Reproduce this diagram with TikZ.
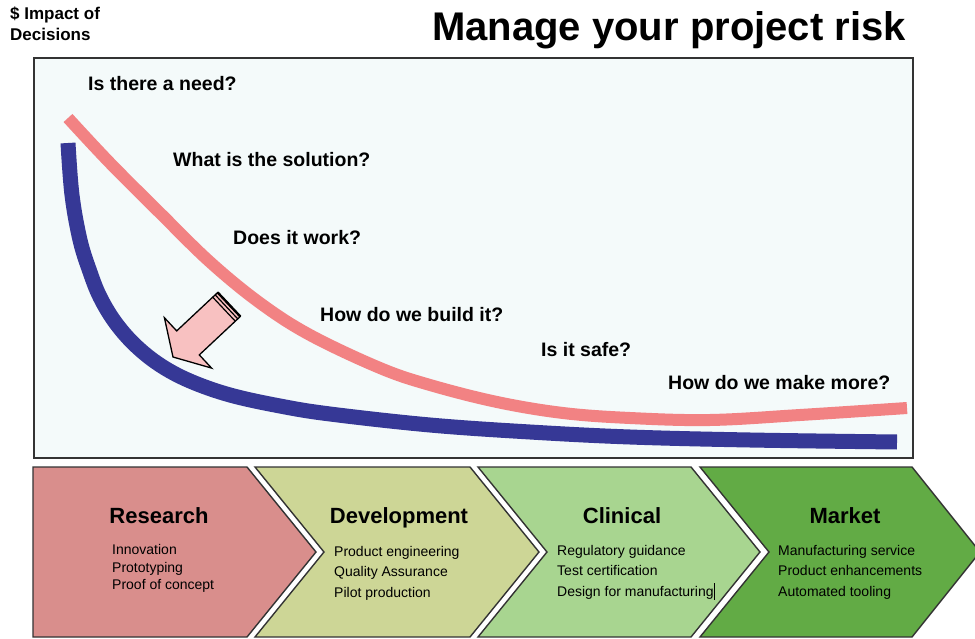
\documentclass[tikz,border=0pt]{standalone}
\usepackage{fontspec}
\setmainfont{Liberation Sans}
\definecolor{panelbg}{HTML}{F4FAFA}
\definecolor{riskred}{HTML}{F28283}
\definecolor{riskblue}{HTML}{363896}
\definecolor{arrowpink}{HTML}{F8C1C1}
\definecolor{chevres}{HTML}{D98E8C}
\definecolor{chevdev}{HTML}{CDD696}
\definecolor{chevcli}{HTML}{A8D590}
\definecolor{chevmkt}{HTML}{62AB45}
\definecolor{edge}{HTML}{333333}
\tikzset{
  question/.style={anchor=base west,inner sep=0pt,font=\fontsize{19.5}{23}\selectfont\bfseries},
  phase/.style={anchor=base,inner sep=0pt,font=\fontsize{22}{26}\selectfont\bfseries},
  item/.style={anchor=base west,inner sep=0pt,font=\fontsize{14}{17}\selectfont},
  chev/.style={draw=edge,line width=1.4pt,line join=miter},
  curve/.style={line cap=butt,line join=round}
}
\begin{document}
\begin{tikzpicture}[x=1pt,y=-1pt]
\useasboundingbox (0,0) rectangle (975,639);
\clip (0,0) rectangle (975,639);
\fill[white] (0,0) rectangle (975,639);

% header
\node[anchor=base west,inner sep=0pt,font=\fontsize{40}{46}\selectfont\bfseries] (title) at (432,41) {Manage your project risk};
\node[anchor=base west,inner sep=0pt,font=\fontsize{17}{20}\selectfont\bfseries] (ylab1) at (10,20) {\$ Impact of};
\node[anchor=base west,inner sep=0pt,font=\fontsize{17}{20}\selectfont\bfseries] (ylab2) at (10,41) {Decisions};

% panel
\draw[fill=panelbg,draw=edge,line width=1.5pt] (34,58) rectangle (913,458);

% curves
\draw[riskred,line width=12pt,curve] plot[smooth,tension=0.6] coordinates {(68,118) (110,163) (160,213) (210,262) (260,303) (310,335) (380,368) (430,385) (497,402) (563,413) (630,418) (710,420) (800,415) (907,408)};
\draw[riskblue,line width=15pt,curve] plot[smooth,tension=0.6] coordinates {(68,143) (72,195) (80,240) (90,272) (100,297) (115,322) (135,345) (160,365) (190,381) (230,395) (280,406) (330,414) (430,425) (530,432) (630,437) (750,440) (897,442)};

% block arrow
\draw[fill=arrowpink,draw=black,line width=1.3pt,line join=miter]
  (240.3,316.5) -- (217.7,292.5) -- (176.7,330.9) -- (164.4,317.7) -- (173,357) -- (211.6,368.1) -- (199.3,354.9) -- cycle;
\draw[line width=2.4pt,line cap=butt] (217.7,292.5) -- (240.3,316.5);
\draw[line width=1.2pt] (215.2,294.9) -- (237.8,318.9);
\draw[line width=1.2pt] (212.7,297.2) -- (235.3,321.2);

% questions
\node[question] (q1) at (88,91) {Is there a need?};
\node[question] (q2) at (173,167) {What is the solution?};
\node[question] (q3) at (233,245) {Does it work?};
\node[question] (q4) at (320,321) {How do we build it?};
\node[question] (q5) at (541,356) {Is it safe?};
\node[question] (q6) at (668,389) {How do we make more?};

% chevrons
\draw[chev,fill=chevres] (33,467) -- (247,467) -- (316,552) -- (247,637) -- (33,637) -- cycle;
\draw[chev,fill=chevdev] (255,467) -- (470,467) -- (539,552) -- (470,637) -- (255,637) -- (324,552) -- cycle;
\draw[chev,fill=chevcli] (478,467) -- (691,467) -- (760,552) -- (691,637) -- (478,637) -- (547,552) -- cycle;
\draw[chev,fill=chevmkt] (700,467) -- (912,467) -- (980,552) -- (912,637) -- (700,637) -- (769,552) -- cycle;

% phase titles
\node[phase] (research) at (159,523) {Research};
\node[phase] (development) at (399,523) {Development};
\node[phase] (clinical) at (622,523) {Clinical};
\node[phase] (market) at (845,523) {Market};

% items
\node[item] (r1) at (112,554) {Innovation};
\node[item] (r2) at (112,572) {Prototyping};
\node[item] (r3) at (112,589) {Proof of concept};

\node[item] (d1) at (334,556) {Product engineering};
\node[item] (d2) at (334,576) {Quality Assurance};
\node[item] (d3) at (334,597) {Pilot production};

\node[item] (c1) at (557,555) {Regulatory guidance};
\node[item] (c2) at (557,575) {Test certification};
\node[item] (c3) at (557,596) {Design for manufacturing};

\node[item] (m1) at (778,555) {Manufacturing service};
\node[item] (m2) at (778,575) {Product enhancements};
\node[item] (m3) at (778,596) {Automated tooling};

\draw[line width=0.8pt] (c3.base east) ++(1,-13) -- ++(0,17);
\end{tikzpicture}
\end{document}
